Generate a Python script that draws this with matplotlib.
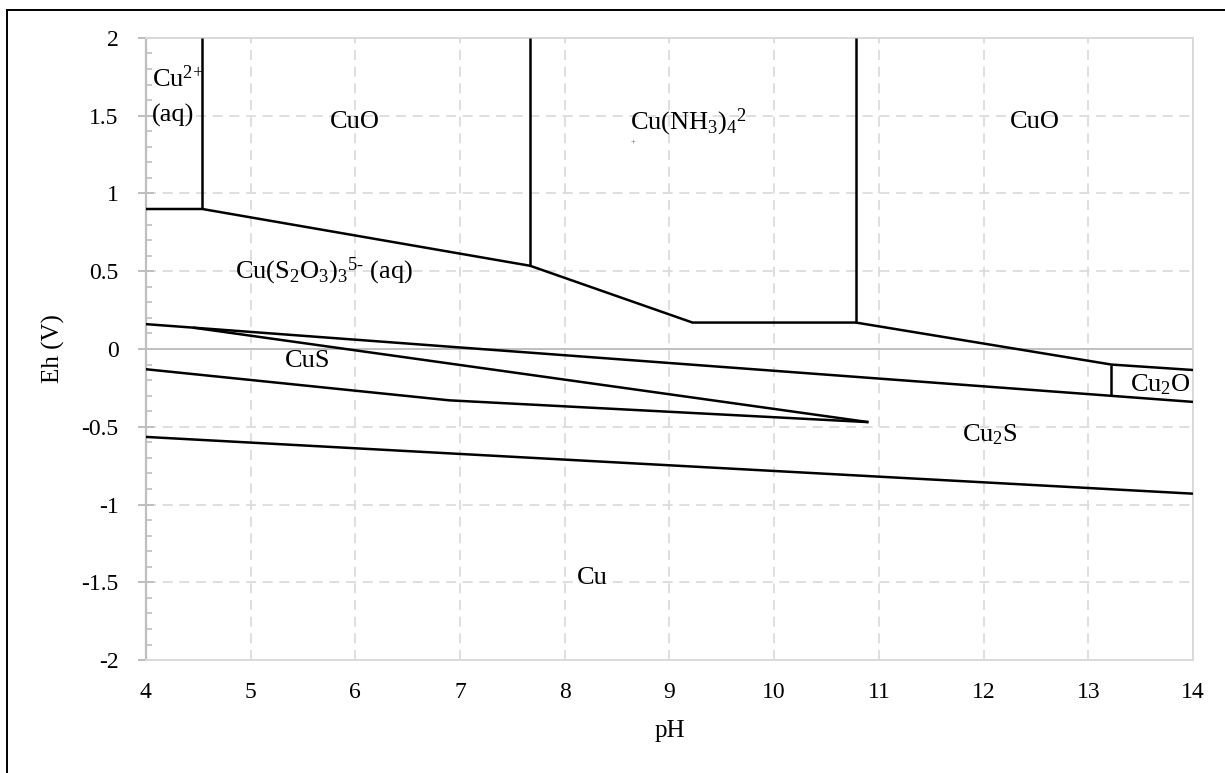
import matplotlib
matplotlib.use("Agg")
import matplotlib.pyplot as plt
from matplotlib.patches import Rectangle
from matplotlib.ticker import MultipleLocator

plt.rcParams['font.family'] = ['Liberation Serif', 'DejaVu Serif']
plt.rcParams['mathtext.fontset'] = 'custom'
plt.rcParams['mathtext.rm'] = 'Liberation Serif'
plt.rcParams['mathtext.it'] = 'Liberation Serif'

# phase boundaries (pH, Eh in V)
ph_cu2_cuo = [4.54, 4.54]
eh_cu2_cuo = [0.90, 2.00]

ph_upper = [4.00, 4.54, 7.67, 9.22, 10.78, 13.22, 14.00]
eh_upper = [0.90, 0.90, 0.535, 0.17, 0.17, -0.10, -0.135]

ph_cuo_nh3 = [7.67, 7.67]
eh_cuo_nh3 = [0.535, 2.00]

ph_nh3_cuo = [10.78, 10.78]
eh_nh3_cuo = [0.17, 2.00]

ph_cu2o = [13.22, 13.22]
eh_cu2o = [-0.10, -0.30]

ph_thio = [4.00, 14.00]
eh_thio = [0.16, -0.34]

ph_cus_top = [4.45, 10.90]
eh_cus_top = [0.1375, -0.47]

ph_cus_bot = [4.00, 6.90, 10.90]
eh_cus_bot = [-0.13, -0.33, -0.47]

ph_cu = [4.00, 14.00]
eh_cu = [-0.565, -0.93]

# species labels
labels = [
    (r"Cu$^{\text{2+}}$", 4.06, 1.74, "left"),
    ("(aq)", 4.06, 1.50, "left"),
    ("CuO", 6.00, 1.46, "center"),
    ("Cu(NH$_3$)$_4$$^2$", 8.62, 1.46, "left"),
    ("CuO", 12.49, 1.46, "center"),
    (r"Cu(S$_2$O$_3$)$_3$$^{\text{5-}}$ (aq)", 4.85, 0.50, "left"),
    ("CuS", 5.55, -0.08, "center"),
    ("Cu$_2$S", 12.06, -0.55, "center"),
    ("Cu$_2$O", 13.69, -0.23, "center"),
    ("Cu", 8.26, -1.47, "center"),
]

fig = plt.figure(figsize=(12.25, 7.73), dpi=100)
ax = fig.add_axes([0.119, 0.146, 0.855, 0.805])

ax.set_xlim(4, 14)
ax.set_ylim(-2, 2)

grid_col = '#d9d9d9'
for x in range(5, 14):
    ax.axvline(x, color=grid_col, lw=1.2, ls=(0, (6, 4)), zorder=0)
for y in [-1.5, -1, -0.5, 0.5, 1, 1.5]:
    ax.axhline(y, color=grid_col, lw=1.2, ls=(0, (6, 4)), zorder=0)
ax.axhline(0, color='#bfbfbf', lw=1.4, zorder=1)

line_kw = dict(color='black', lw=1.8, zorder=3, solid_capstyle='butt')
for xs, ys in [(ph_cu2_cuo, eh_cu2_cuo), (ph_upper, eh_upper),
               (ph_cuo_nh3, eh_cuo_nh3), (ph_nh3_cuo, eh_nh3_cuo),
               (ph_cu2o, eh_cu2o), (ph_thio, eh_thio),
               (ph_cus_top, eh_cus_top), (ph_cus_bot, eh_cus_bot),
               (ph_cu, eh_cu)]:
    ax.plot(xs, ys, **line_kw)

for txt, x, y, ha in labels:
    ax.text(x, y, txt, fontsize=19, ha=ha, va='center', zorder=4)
ax.text(8.65, 1.33, "+", fontsize=6, ha='center', va='center', color='#555555')

for side in ['top', 'right', 'bottom']:
    ax.spines[side].set_color(grid_col)
    ax.spines[side].set_linewidth(1.4)
ax.spines['left'].set_color('#bfbfbf')
ax.spines['left'].set_linewidth(1.6)

ax.xaxis.set_major_locator(MultipleLocator(1))
ax.yaxis.set_minor_locator(MultipleLocator(0.1))
ax.set_yticks([-2, -1.5, -1, -0.5, 0, 0.5, 1, 1.5, 2])
ax.set_yticklabels(['-2', '-1.5', '-1', '-0.5', '0', '0.5', '1', '1.5', '2'])
ax.tick_params(axis='x', length=0, pad=16, labelsize=17)
ax.tick_params(axis='y', which='major', direction='inout', length=11,
               width=1.4, color='#bfbfbf', pad=14, labelsize=17)
ax.tick_params(axis='y', which='minor', direction='in', length=4.5,
               width=1.2, color='#bfbfbf')

ax.set_xlabel("pH", fontsize=18, labelpad=12)
ax.set_ylabel("Eh (V)", fontsize=18, labelpad=12)

fig.patches.append(Rectangle((7 / 1225, -0.1), 1.2, 1 - 10 / 773 + 0.1,
                             transform=fig.transFigure, fill=False,
                             edgecolor='black', lw=1.4))

fig.savefig("out.png", dpi=100)
